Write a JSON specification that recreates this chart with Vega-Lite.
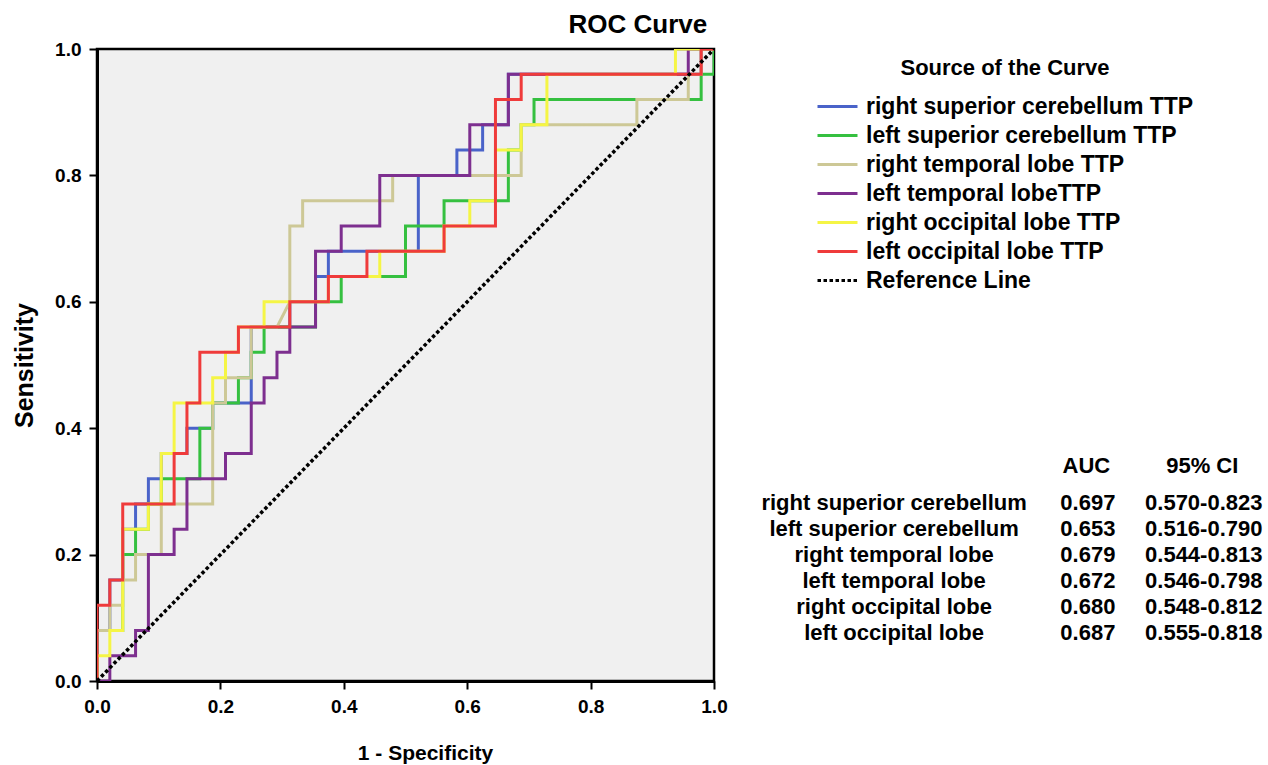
{
  "$schema": "https://vega.github.io/schema/vega-lite/v6.json",
  "background": "white",
  "padding": {"left": 11, "top": 10, "right": 0, "bottom": 0},
  "bounds": "flush",
  "spacing": 46,
  "config": {
    "font": "Liberation Sans",
    "view": {"stroke": null},
    "axis": {
      "domainColor": "#000", "domainWidth": 3, "tickColor": "#000", "tickWidth": 2, "tickSize": 8,
      "labelColor": "#000", "labelFont": "Liberation Sans", "labelFontWeight": "bold", "labelFontSize": 19,
      "labelFlush": false, "labelOverlap": false,
      "titleColor": "#000", "titleFont": "Liberation Sans", "titleFontWeight": "bold", "titleFontSize": 22,
      "grid": false
    },
    "legend": {
      "orient": "none", "legendX": 719, "legendY": 9,
      "titleFont": "Liberation Sans", "titleFontWeight": "bold", "titleFontSize": 22, "titleColor": "#000",
      "titleAnchor": "middle", "titlePadding": 12, "titleLimit": 0,
      "labelFont": "Liberation Sans", "labelFontWeight": "bold", "labelFontSize": 23, "labelColor": "#000", "labelLimit": 0,
      "symbolSize": 1600, "symbolStrokeWidth": 3, "labelOffset": 7, "rowPadding": 0, "clipHeight": 29
    }
  },
  "datasets": {
    "roc": [
      {"curve": "right superior cerebellum TTP", "k": 0, "fpr": 0, "tpr": 0},
      {"curve": "right superior cerebellum TTP", "k": 1, "fpr": 0, "tpr": 0.08},
      {"curve": "right superior cerebellum TTP", "k": 2, "fpr": 0.0208, "tpr": 0.08},
      {"curve": "right superior cerebellum TTP", "k": 3, "fpr": 0.0208, "tpr": 0.16},
      {"curve": "right superior cerebellum TTP", "k": 4, "fpr": 0.0417, "tpr": 0.16},
      {"curve": "right superior cerebellum TTP", "k": 5, "fpr": 0.0417, "tpr": 0.24},
      {"curve": "right superior cerebellum TTP", "k": 6, "fpr": 0.0625, "tpr": 0.24},
      {"curve": "right superior cerebellum TTP", "k": 7, "fpr": 0.0625, "tpr": 0.28},
      {"curve": "right superior cerebellum TTP", "k": 8, "fpr": 0.0833, "tpr": 0.28},
      {"curve": "right superior cerebellum TTP", "k": 9, "fpr": 0.0833, "tpr": 0.32},
      {"curve": "right superior cerebellum TTP", "k": 10, "fpr": 0.1042, "tpr": 0.32},
      {"curve": "right superior cerebellum TTP", "k": 11, "fpr": 0.1042, "tpr": 0.36},
      {"curve": "right superior cerebellum TTP", "k": 12, "fpr": 0.1458, "tpr": 0.36},
      {"curve": "right superior cerebellum TTP", "k": 13, "fpr": 0.1458, "tpr": 0.40},
      {"curve": "right superior cerebellum TTP", "k": 14, "fpr": 0.1875, "tpr": 0.40},
      {"curve": "right superior cerebellum TTP", "k": 15, "fpr": 0.1875, "tpr": 0.44},
      {"curve": "right superior cerebellum TTP", "k": 16, "fpr": 0.25, "tpr": 0.44},
      {"curve": "right superior cerebellum TTP", "k": 17, "fpr": 0.25, "tpr": 0.56},
      {"curve": "right superior cerebellum TTP", "k": 18, "fpr": 0.3125, "tpr": 0.56},
      {"curve": "right superior cerebellum TTP", "k": 19, "fpr": 0.3125, "tpr": 0.60},
      {"curve": "right superior cerebellum TTP", "k": 20, "fpr": 0.3542, "tpr": 0.60},
      {"curve": "right superior cerebellum TTP", "k": 21, "fpr": 0.3542, "tpr": 0.64},
      {"curve": "right superior cerebellum TTP", "k": 22, "fpr": 0.375, "tpr": 0.64},
      {"curve": "right superior cerebellum TTP", "k": 23, "fpr": 0.375, "tpr": 0.68},
      {"curve": "right superior cerebellum TTP", "k": 24, "fpr": 0.5208, "tpr": 0.68},
      {"curve": "right superior cerebellum TTP", "k": 25, "fpr": 0.5208, "tpr": 0.80},
      {"curve": "right superior cerebellum TTP", "k": 26, "fpr": 0.5833, "tpr": 0.80},
      {"curve": "right superior cerebellum TTP", "k": 27, "fpr": 0.5833, "tpr": 0.84},
      {"curve": "right superior cerebellum TTP", "k": 28, "fpr": 0.625, "tpr": 0.84},
      {"curve": "right superior cerebellum TTP", "k": 29, "fpr": 0.625, "tpr": 0.88},
      {"curve": "right superior cerebellum TTP", "k": 30, "fpr": 0.6667, "tpr": 0.88},
      {"curve": "right superior cerebellum TTP", "k": 31, "fpr": 0.6667, "tpr": 0.96},
      {"curve": "right superior cerebellum TTP", "k": 32, "fpr": 0.9792, "tpr": 0.96},
      {"curve": "right superior cerebellum TTP", "k": 33, "fpr": 0.9792, "tpr": 1},
      {"curve": "right superior cerebellum TTP", "k": 34, "fpr": 1, "tpr": 1},

      {"curve": "left superior cerebellum TTP", "k": 0, "fpr": 0, "tpr": 0},
      {"curve": "left superior cerebellum TTP", "k": 1, "fpr": 0, "tpr": 0.08},
      {"curve": "left superior cerebellum TTP", "k": 2, "fpr": 0.0417, "tpr": 0.08},
      {"curve": "left superior cerebellum TTP", "k": 3, "fpr": 0.0417, "tpr": 0.20},
      {"curve": "left superior cerebellum TTP", "k": 4, "fpr": 0.0625, "tpr": 0.20},
      {"curve": "left superior cerebellum TTP", "k": 5, "fpr": 0.0625, "tpr": 0.24},
      {"curve": "left superior cerebellum TTP", "k": 6, "fpr": 0.0833, "tpr": 0.24},
      {"curve": "left superior cerebellum TTP", "k": 7, "fpr": 0.0833, "tpr": 0.28},
      {"curve": "left superior cerebellum TTP", "k": 8, "fpr": 0.1042, "tpr": 0.28},
      {"curve": "left superior cerebellum TTP", "k": 9, "fpr": 0.1042, "tpr": 0.32},
      {"curve": "left superior cerebellum TTP", "k": 10, "fpr": 0.1667, "tpr": 0.32},
      {"curve": "left superior cerebellum TTP", "k": 11, "fpr": 0.1667, "tpr": 0.40},
      {"curve": "left superior cerebellum TTP", "k": 12, "fpr": 0.1875, "tpr": 0.40},
      {"curve": "left superior cerebellum TTP", "k": 13, "fpr": 0.1875, "tpr": 0.44},
      {"curve": "left superior cerebellum TTP", "k": 14, "fpr": 0.2292, "tpr": 0.44},
      {"curve": "left superior cerebellum TTP", "k": 15, "fpr": 0.2292, "tpr": 0.48},
      {"curve": "left superior cerebellum TTP", "k": 16, "fpr": 0.25, "tpr": 0.48},
      {"curve": "left superior cerebellum TTP", "k": 17, "fpr": 0.25, "tpr": 0.52},
      {"curve": "left superior cerebellum TTP", "k": 18, "fpr": 0.2708, "tpr": 0.52},
      {"curve": "left superior cerebellum TTP", "k": 19, "fpr": 0.2708, "tpr": 0.56},
      {"curve": "left superior cerebellum TTP", "k": 20, "fpr": 0.3542, "tpr": 0.56},
      {"curve": "left superior cerebellum TTP", "k": 21, "fpr": 0.3542, "tpr": 0.60},
      {"curve": "left superior cerebellum TTP", "k": 22, "fpr": 0.3958, "tpr": 0.60},
      {"curve": "left superior cerebellum TTP", "k": 23, "fpr": 0.3958, "tpr": 0.64},
      {"curve": "left superior cerebellum TTP", "k": 24, "fpr": 0.5, "tpr": 0.64},
      {"curve": "left superior cerebellum TTP", "k": 25, "fpr": 0.5, "tpr": 0.72},
      {"curve": "left superior cerebellum TTP", "k": 26, "fpr": 0.5625, "tpr": 0.72},
      {"curve": "left superior cerebellum TTP", "k": 27, "fpr": 0.5625, "tpr": 0.76},
      {"curve": "left superior cerebellum TTP", "k": 28, "fpr": 0.6667, "tpr": 0.76},
      {"curve": "left superior cerebellum TTP", "k": 29, "fpr": 0.6667, "tpr": 0.84},
      {"curve": "left superior cerebellum TTP", "k": 30, "fpr": 0.6875, "tpr": 0.84},
      {"curve": "left superior cerebellum TTP", "k": 31, "fpr": 0.6875, "tpr": 0.88},
      {"curve": "left superior cerebellum TTP", "k": 32, "fpr": 0.7083, "tpr": 0.88},
      {"curve": "left superior cerebellum TTP", "k": 33, "fpr": 0.7083, "tpr": 0.92},
      {"curve": "left superior cerebellum TTP", "k": 34, "fpr": 0.9792, "tpr": 0.92},
      {"curve": "left superior cerebellum TTP", "k": 35, "fpr": 0.9792, "tpr": 0.96},
      {"curve": "left superior cerebellum TTP", "k": 36, "fpr": 1, "tpr": 0.96},
      {"curve": "left superior cerebellum TTP", "k": 37, "fpr": 1, "tpr": 1},

      {"curve": "right temporal lobe TTP", "k": 0, "fpr": 0, "tpr": 0},
      {"curve": "right temporal lobe TTP", "k": 1, "fpr": 0, "tpr": 0.08},
      {"curve": "right temporal lobe TTP", "k": 2, "fpr": 0.0208, "tpr": 0.08},
      {"curve": "right temporal lobe TTP", "k": 3, "fpr": 0.0208, "tpr": 0.12},
      {"curve": "right temporal lobe TTP", "k": 4, "fpr": 0.0417, "tpr": 0.12},
      {"curve": "right temporal lobe TTP", "k": 5, "fpr": 0.0417, "tpr": 0.16},
      {"curve": "right temporal lobe TTP", "k": 6, "fpr": 0.0625, "tpr": 0.16},
      {"curve": "right temporal lobe TTP", "k": 7, "fpr": 0.0625, "tpr": 0.20},
      {"curve": "right temporal lobe TTP", "k": 8, "fpr": 0.1042, "tpr": 0.20},
      {"curve": "right temporal lobe TTP", "k": 9, "fpr": 0.1042, "tpr": 0.28},
      {"curve": "right temporal lobe TTP", "k": 10, "fpr": 0.1875, "tpr": 0.28},
      {"curve": "right temporal lobe TTP", "k": 11, "fpr": 0.1875, "tpr": 0.44},
      {"curve": "right temporal lobe TTP", "k": 12, "fpr": 0.2083, "tpr": 0.44},
      {"curve": "right temporal lobe TTP", "k": 13, "fpr": 0.2083, "tpr": 0.48},
      {"curve": "right temporal lobe TTP", "k": 14, "fpr": 0.25, "tpr": 0.48},
      {"curve": "right temporal lobe TTP", "k": 15, "fpr": 0.25, "tpr": 0.56},
      {"curve": "right temporal lobe TTP", "k": 16, "fpr": 0.2917, "tpr": 0.56},
      {"curve": "right temporal lobe TTP", "k": 17, "fpr": 0.3125, "tpr": 0.60},
      {"curve": "right temporal lobe TTP", "k": 18, "fpr": 0.3125, "tpr": 0.72},
      {"curve": "right temporal lobe TTP", "k": 19, "fpr": 0.3333, "tpr": 0.72},
      {"curve": "right temporal lobe TTP", "k": 20, "fpr": 0.3333, "tpr": 0.76},
      {"curve": "right temporal lobe TTP", "k": 21, "fpr": 0.4792, "tpr": 0.76},
      {"curve": "right temporal lobe TTP", "k": 22, "fpr": 0.4792, "tpr": 0.80},
      {"curve": "right temporal lobe TTP", "k": 23, "fpr": 0.6875, "tpr": 0.80},
      {"curve": "right temporal lobe TTP", "k": 24, "fpr": 0.6875, "tpr": 0.88},
      {"curve": "right temporal lobe TTP", "k": 25, "fpr": 0.875, "tpr": 0.88},
      {"curve": "right temporal lobe TTP", "k": 26, "fpr": 0.875, "tpr": 0.92},
      {"curve": "right temporal lobe TTP", "k": 27, "fpr": 0.9583, "tpr": 0.92},
      {"curve": "right temporal lobe TTP", "k": 28, "fpr": 0.9583, "tpr": 0.96},
      {"curve": "right temporal lobe TTP", "k": 29, "fpr": 0.9792, "tpr": 0.96},
      {"curve": "right temporal lobe TTP", "k": 30, "fpr": 0.9792, "tpr": 1},
      {"curve": "right temporal lobe TTP", "k": 31, "fpr": 1, "tpr": 1},

      {"curve": "left temporal lobeTTP", "k": 0, "fpr": 0, "tpr": 0},
      {"curve": "left temporal lobeTTP", "k": 1, "fpr": 0.0208, "tpr": 0},
      {"curve": "left temporal lobeTTP", "k": 2, "fpr": 0.0208, "tpr": 0.04},
      {"curve": "left temporal lobeTTP", "k": 3, "fpr": 0.0625, "tpr": 0.04},
      {"curve": "left temporal lobeTTP", "k": 4, "fpr": 0.0625, "tpr": 0.08},
      {"curve": "left temporal lobeTTP", "k": 5, "fpr": 0.0833, "tpr": 0.08},
      {"curve": "left temporal lobeTTP", "k": 6, "fpr": 0.0833, "tpr": 0.20},
      {"curve": "left temporal lobeTTP", "k": 7, "fpr": 0.125, "tpr": 0.20},
      {"curve": "left temporal lobeTTP", "k": 8, "fpr": 0.125, "tpr": 0.24},
      {"curve": "left temporal lobeTTP", "k": 9, "fpr": 0.1458, "tpr": 0.24},
      {"curve": "left temporal lobeTTP", "k": 10, "fpr": 0.1458, "tpr": 0.32},
      {"curve": "left temporal lobeTTP", "k": 11, "fpr": 0.2083, "tpr": 0.32},
      {"curve": "left temporal lobeTTP", "k": 12, "fpr": 0.2083, "tpr": 0.36},
      {"curve": "left temporal lobeTTP", "k": 13, "fpr": 0.25, "tpr": 0.36},
      {"curve": "left temporal lobeTTP", "k": 14, "fpr": 0.25, "tpr": 0.44},
      {"curve": "left temporal lobeTTP", "k": 15, "fpr": 0.2708, "tpr": 0.44},
      {"curve": "left temporal lobeTTP", "k": 16, "fpr": 0.2708, "tpr": 0.48},
      {"curve": "left temporal lobeTTP", "k": 17, "fpr": 0.2917, "tpr": 0.48},
      {"curve": "left temporal lobeTTP", "k": 18, "fpr": 0.2917, "tpr": 0.52},
      {"curve": "left temporal lobeTTP", "k": 19, "fpr": 0.3125, "tpr": 0.52},
      {"curve": "left temporal lobeTTP", "k": 20, "fpr": 0.3125, "tpr": 0.56},
      {"curve": "left temporal lobeTTP", "k": 21, "fpr": 0.3542, "tpr": 0.56},
      {"curve": "left temporal lobeTTP", "k": 22, "fpr": 0.3542, "tpr": 0.68},
      {"curve": "left temporal lobeTTP", "k": 23, "fpr": 0.3958, "tpr": 0.68},
      {"curve": "left temporal lobeTTP", "k": 24, "fpr": 0.3958, "tpr": 0.72},
      {"curve": "left temporal lobeTTP", "k": 25, "fpr": 0.4583, "tpr": 0.72},
      {"curve": "left temporal lobeTTP", "k": 26, "fpr": 0.4583, "tpr": 0.80},
      {"curve": "left temporal lobeTTP", "k": 27, "fpr": 0.6042, "tpr": 0.80},
      {"curve": "left temporal lobeTTP", "k": 28, "fpr": 0.6042, "tpr": 0.88},
      {"curve": "left temporal lobeTTP", "k": 29, "fpr": 0.6667, "tpr": 0.88},
      {"curve": "left temporal lobeTTP", "k": 30, "fpr": 0.6667, "tpr": 0.96},
      {"curve": "left temporal lobeTTP", "k": 31, "fpr": 0.9583, "tpr": 0.96},
      {"curve": "left temporal lobeTTP", "k": 32, "fpr": 0.9583, "tpr": 1},
      {"curve": "left temporal lobeTTP", "k": 33, "fpr": 1, "tpr": 1},

      {"curve": "right occipital lobe TTP", "k": 0, "fpr": 0, "tpr": 0},
      {"curve": "right occipital lobe TTP", "k": 1, "fpr": 0, "tpr": 0.04},
      {"curve": "right occipital lobe TTP", "k": 2, "fpr": 0.0208, "tpr": 0.04},
      {"curve": "right occipital lobe TTP", "k": 3, "fpr": 0.0208, "tpr": 0.08},
      {"curve": "right occipital lobe TTP", "k": 4, "fpr": 0.0417, "tpr": 0.08},
      {"curve": "right occipital lobe TTP", "k": 5, "fpr": 0.0417, "tpr": 0.24},
      {"curve": "right occipital lobe TTP", "k": 6, "fpr": 0.0833, "tpr": 0.24},
      {"curve": "right occipital lobe TTP", "k": 7, "fpr": 0.0833, "tpr": 0.28},
      {"curve": "right occipital lobe TTP", "k": 8, "fpr": 0.1042, "tpr": 0.28},
      {"curve": "right occipital lobe TTP", "k": 9, "fpr": 0.1042, "tpr": 0.36},
      {"curve": "right occipital lobe TTP", "k": 10, "fpr": 0.125, "tpr": 0.36},
      {"curve": "right occipital lobe TTP", "k": 11, "fpr": 0.125, "tpr": 0.44},
      {"curve": "right occipital lobe TTP", "k": 12, "fpr": 0.1875, "tpr": 0.44},
      {"curve": "right occipital lobe TTP", "k": 13, "fpr": 0.1875, "tpr": 0.48},
      {"curve": "right occipital lobe TTP", "k": 14, "fpr": 0.2083, "tpr": 0.48},
      {"curve": "right occipital lobe TTP", "k": 15, "fpr": 0.2083, "tpr": 0.52},
      {"curve": "right occipital lobe TTP", "k": 16, "fpr": 0.2292, "tpr": 0.52},
      {"curve": "right occipital lobe TTP", "k": 17, "fpr": 0.2292, "tpr": 0.56},
      {"curve": "right occipital lobe TTP", "k": 18, "fpr": 0.2708, "tpr": 0.56},
      {"curve": "right occipital lobe TTP", "k": 19, "fpr": 0.2708, "tpr": 0.60},
      {"curve": "right occipital lobe TTP", "k": 20, "fpr": 0.375, "tpr": 0.60},
      {"curve": "right occipital lobe TTP", "k": 21, "fpr": 0.375, "tpr": 0.64},
      {"curve": "right occipital lobe TTP", "k": 22, "fpr": 0.4583, "tpr": 0.64},
      {"curve": "right occipital lobe TTP", "k": 23, "fpr": 0.4583, "tpr": 0.68},
      {"curve": "right occipital lobe TTP", "k": 24, "fpr": 0.5625, "tpr": 0.68},
      {"curve": "right occipital lobe TTP", "k": 25, "fpr": 0.5625, "tpr": 0.72},
      {"curve": "right occipital lobe TTP", "k": 26, "fpr": 0.6042, "tpr": 0.72},
      {"curve": "right occipital lobe TTP", "k": 27, "fpr": 0.6042, "tpr": 0.76},
      {"curve": "right occipital lobe TTP", "k": 28, "fpr": 0.6458, "tpr": 0.76},
      {"curve": "right occipital lobe TTP", "k": 29, "fpr": 0.6458, "tpr": 0.84},
      {"curve": "right occipital lobe TTP", "k": 30, "fpr": 0.6875, "tpr": 0.84},
      {"curve": "right occipital lobe TTP", "k": 31, "fpr": 0.6875, "tpr": 0.88},
      {"curve": "right occipital lobe TTP", "k": 32, "fpr": 0.7292, "tpr": 0.88},
      {"curve": "right occipital lobe TTP", "k": 33, "fpr": 0.7292, "tpr": 0.96},
      {"curve": "right occipital lobe TTP", "k": 34, "fpr": 0.9375, "tpr": 0.96},
      {"curve": "right occipital lobe TTP", "k": 35, "fpr": 0.9375, "tpr": 1},
      {"curve": "right occipital lobe TTP", "k": 36, "fpr": 1, "tpr": 1},

      {"curve": "left occipital lobe TTP", "k": 0, "fpr": 0, "tpr": 0},
      {"curve": "left occipital lobe TTP", "k": 1, "fpr": 0, "tpr": 0.12},
      {"curve": "left occipital lobe TTP", "k": 2, "fpr": 0.0208, "tpr": 0.12},
      {"curve": "left occipital lobe TTP", "k": 3, "fpr": 0.0208, "tpr": 0.16},
      {"curve": "left occipital lobe TTP", "k": 4, "fpr": 0.0417, "tpr": 0.16},
      {"curve": "left occipital lobe TTP", "k": 5, "fpr": 0.0417, "tpr": 0.28},
      {"curve": "left occipital lobe TTP", "k": 6, "fpr": 0.125, "tpr": 0.28},
      {"curve": "left occipital lobe TTP", "k": 7, "fpr": 0.125, "tpr": 0.36},
      {"curve": "left occipital lobe TTP", "k": 8, "fpr": 0.1458, "tpr": 0.36},
      {"curve": "left occipital lobe TTP", "k": 9, "fpr": 0.1458, "tpr": 0.44},
      {"curve": "left occipital lobe TTP", "k": 10, "fpr": 0.1667, "tpr": 0.44},
      {"curve": "left occipital lobe TTP", "k": 11, "fpr": 0.1667, "tpr": 0.52},
      {"curve": "left occipital lobe TTP", "k": 12, "fpr": 0.2292, "tpr": 0.52},
      {"curve": "left occipital lobe TTP", "k": 13, "fpr": 0.2292, "tpr": 0.56},
      {"curve": "left occipital lobe TTP", "k": 14, "fpr": 0.3125, "tpr": 0.56},
      {"curve": "left occipital lobe TTP", "k": 15, "fpr": 0.3125, "tpr": 0.60},
      {"curve": "left occipital lobe TTP", "k": 16, "fpr": 0.375, "tpr": 0.60},
      {"curve": "left occipital lobe TTP", "k": 17, "fpr": 0.375, "tpr": 0.64},
      {"curve": "left occipital lobe TTP", "k": 18, "fpr": 0.4375, "tpr": 0.64},
      {"curve": "left occipital lobe TTP", "k": 19, "fpr": 0.4375, "tpr": 0.68},
      {"curve": "left occipital lobe TTP", "k": 20, "fpr": 0.5625, "tpr": 0.68},
      {"curve": "left occipital lobe TTP", "k": 21, "fpr": 0.5625, "tpr": 0.72},
      {"curve": "left occipital lobe TTP", "k": 22, "fpr": 0.6458, "tpr": 0.72},
      {"curve": "left occipital lobe TTP", "k": 23, "fpr": 0.6458, "tpr": 0.92},
      {"curve": "left occipital lobe TTP", "k": 24, "fpr": 0.6875, "tpr": 0.92},
      {"curve": "left occipital lobe TTP", "k": 25, "fpr": 0.6875, "tpr": 0.96},
      {"curve": "left occipital lobe TTP", "k": 26, "fpr": 0.9792, "tpr": 0.96},
      {"curve": "left occipital lobe TTP", "k": 27, "fpr": 0.9792, "tpr": 1},
      {"curve": "left occipital lobe TTP", "k": 28, "fpr": 1, "tpr": 1},

      {"curve": "Reference Line", "k": 0, "fpr": 0, "tpr": 0},
      {"curve": "Reference Line", "k": 1, "fpr": 1, "tpr": 1}
    ],
    "table": [
      {"row": 0, "region": "", "auc": "AUC", "ci": "95% CI"},
      {"row": 1, "region": "right superior cerebellum", "auc": "0.697", "ci": "0.570-0.823"},
      {"row": 2, "region": "left superior cerebellum", "auc": "0.653", "ci": "0.516-0.790"},
      {"row": 3, "region": "right temporal lobe", "auc": "0.679", "ci": "0.544-0.813"},
      {"row": 4, "region": "left temporal lobe", "auc": "0.672", "ci": "0.546-0.798"},
      {"row": 5, "region": "right occipital lobe", "auc": "0.680", "ci": "0.548-0.812"},
      {"row": 6, "region": "left occipital lobe", "auc": "0.687", "ci": "0.555-0.818"}
    ]
  },
  "hconcat": [
    {
      "width": 617,
      "height": 632,
      "title": {"text": "ROC Curve", "anchor": "end", "fontSize": 26, "fontWeight": "bold", "font": "Liberation Sans", "color": "#000", "offset": 2, "dx": -20},
      "view": {"fill": "#f0f0f0", "stroke": "#000", "strokeWidth": 2.5},
      "data": {"name": "roc"},
      "encoding": {
        "x": {"field": "fpr", "type": "quantitative", "scale": {"domain": [0, 1], "nice": false, "zero": false},
              "axis": {"title": "1 - Specificity", "values": [0, 0.2, 0.4, 0.6, 0.8, 1], "format": ".1f", "labelPadding": 8, "titlePadding": 26, "titleFontSize": 21, "titleX": 328, "titleAlign": "center"}},
        "y": {"field": "tpr", "type": "quantitative", "scale": {"domain": [0, 1], "nice": false, "zero": false},
              "axis": {"title": "Sensitivity", "values": [0, 0.2, 0.4, 0.6, 0.8, 1], "format": ".1f", "labelPadding": 8, "titlePadding": 17, "titleFontSize": 25}},
        "color": {"field": "curve", "type": "nominal", "title": "Source of the Curve",
                  "scale": {"domain": ["right superior cerebellum TTP", "left superior cerebellum TTP", "right temporal lobe TTP", "left temporal lobeTTP", "right occipital lobe TTP", "left occipital lobe TTP", "Reference Line"],
                            "range": ["#4a63c9", "#35c040", "#cdc896", "#7d2f8f", "#f5f545", "#ef3b3b", "#000000"]}},
        "strokeDash": {"field": "curve", "type": "nominal", "title": "Source of the Curve",
                  "scale": {"domain": ["right superior cerebellum TTP", "left superior cerebellum TTP", "right temporal lobe TTP", "left temporal lobeTTP", "right occipital lobe TTP", "left occipital lobe TTP", "Reference Line"],
                            "range": [[1, 0], [1, 0], [1, 0], [1, 0], [1, 0], [1, 0], [3.5, 2.5]]}},
        "order": {"field": "k", "type": "quantitative"}
      },
      "layer": [
        {"transform": [{"filter": "datum.curve !== 'Reference Line'"}], "mark": {"type": "line", "strokeWidth": 3, "clip": true}},
        {"transform": [{"filter": "datum.curve === 'Reference Line'"}], "mark": {"type": "line", "strokeWidth": 3.5, "clip": true}}
      ]
    },
    {
      "width": 506,
      "height": 632,
      "data": {"name": "table"},
      "encoding": {
        "y": {"field": "row", "type": "quantitative", "scale": {"domain": [-16.45, 7.86], "reverse": true, "nice": false, "zero": false}, "axis": null}
      },
      "layer": [
        {"transform": [{"filter": "datum.row > 0"}],
         "mark": {"type": "text", "font": "Liberation Sans", "fontWeight": "bold", "fontSize": 22, "color": "#000", "align": "center", "baseline": "middle"},
         "encoding": {"x": {"datum": 0.265, "type": "quantitative", "scale": {"domain": [0, 1], "nice": false, "zero": false}, "axis": null}, "text": {"field": "region"}}},
        {"transform": [{"filter": "datum.row > 0"}],
         "mark": {"type": "text", "font": "Liberation Sans", "fontWeight": "bold", "fontSize": 22, "color": "#000", "align": "center", "baseline": "middle"},
         "encoding": {"x": {"datum": 0.648, "type": "quantitative"}, "text": {"field": "auc"}}},
        {"transform": [{"filter": "datum.row > 0"}],
         "mark": {"type": "text", "font": "Liberation Sans", "fontWeight": "bold", "fontSize": 22, "color": "#000", "align": "center", "baseline": "middle"},
         "encoding": {"x": {"datum": 0.877, "type": "quantitative"}, "text": {"field": "ci"}}},
        {"transform": [{"filter": "datum.row === 0"}],
         "mark": {"type": "text", "font": "Liberation Sans", "fontWeight": "bold", "fontSize": 22, "color": "#000", "align": "center", "baseline": "middle", "dy": -10.7},
         "encoding": {"x": {"datum": 0.645, "type": "quantitative"}, "text": {"field": "auc"}}},
        {"transform": [{"filter": "datum.row === 0"}],
         "mark": {"type": "text", "font": "Liberation Sans", "fontWeight": "bold", "fontSize": 22, "color": "#000", "align": "center", "baseline": "middle", "dy": -10.7},
         "encoding": {"x": {"datum": 0.874, "type": "quantitative"}, "text": {"field": "ci"}}}
      ]
    }
  ]
}
